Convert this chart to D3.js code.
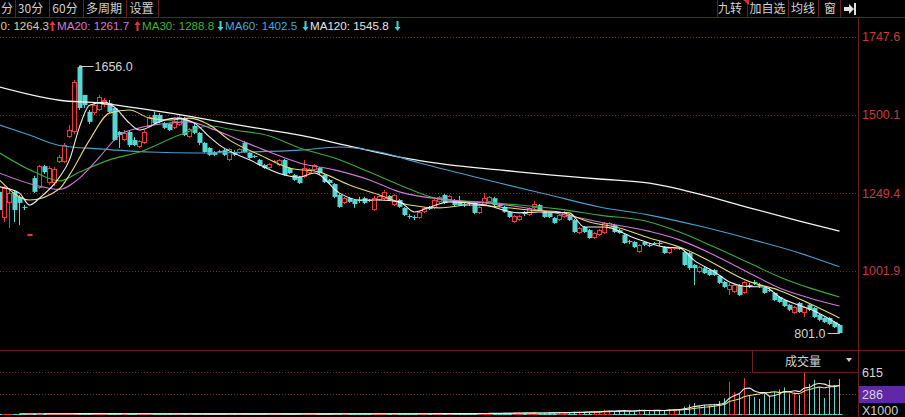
<!DOCTYPE html>
<html><head><meta charset="utf-8">
<script src="https://cdn.jsdelivr.net/npm/d3@7"></script>
<style>
html,body{margin:0;padding:0;background:#000;overflow:hidden}
svg{display:block}
text{font-family:"Liberation Sans",Arial,sans-serif}
.cjk{font-family:"Noto Sans CJK SC","Noto Sans",sans-serif}
</style></head><body>
<svg id="c" width="905" height="417"></svg>
<script>
// ---------------- DATA ----------------
const opens=[1254,1171,1219,1254,1238,1206,1113,1298,1266,1336,1282,1282,1349,1349,1429,1445,1652,1563,1509,1505,
1515,1531,1537,1521,1445,1419,1445,1419,1397,1410,1461,1499,1499,1473,1470,1458,1467,1489,1429,1464,
1442,1410,1394,1381,1384,1387,1356,1381,1378,1410,1378,1368,1356,1340,1330,1349,1340,1356,1330,1308,
1301,1301,1314,1324,1330,1308,1292,1279,1244,1219,1234,1228,1228,1234,1228,1196,1228,1231,1241,1212,
1228,1203,1177,1174,1171,1190,1203,1203,1222,1244,1228,1228,1225,1215,1219,1219,1187,1212,1222,1234,
1212,1206,1190,1158,1164,1187,1180,1203,1212,1190,1187,1171,1164,1174,1180,1164,1123,1142,1132,1107,
1117,1123,1139,1148,1132,1117,1097,1094,1062,1094,1085,1091,1091,1078,1059,1072,1075,1062,1059,1021,
999,1011,1005,1005,986,967,941,935,957,932,957,967,957,948,941,932,919,909,894,868,
900,868,894,884,862,852,852,839,830];
const highs=[1260,1273,1266,1260,1244,1212,1120,1305,1340,1340,1336,1333,1372,1410,1467,1610,1656,1563,1515,1537,
1563,1553,1547,1524,1448,1451,1448,1429,1419,1451,1499,1509,1505,1477,1473,1483,1499,1493,1458,1470,
1445,1413,1397,1384,1387,1391,1394,1387,1394,1416,1381,1372,1359,1343,1346,1356,1359,1359,1333,1311,
1305,1356,1330,1343,1333,1311,1295,1282,1247,1238,1238,1231,1238,1238,1231,1241,1244,1260,1244,1247,
1231,1206,1183,1180,1193,1206,1209,1231,1241,1247,1244,1231,1241,1222,1225,1222,1209,1250,1241,1238,
1219,1209,1193,1180,1180,1193,1206,1225,1215,1193,1190,1174,1183,1193,1183,1168,1142,1145,1136,1126,
1136,1158,1158,1152,1136,1120,1101,1097,1088,1097,1091,1094,1097,1081,1078,1078,1078,1066,1062,1024,
1018,1015,1008,1008,989,970,964,960,960,970,964,973,964,951,948,935,922,913,897,890,
903,890,897,887,865,855,855,842,833];
const lows=[1171,1158,1139,1158,1148,1196,1113,1250,1263,1311,1276,1273,1346,1346,1426,1438,1515,1521,1470,1499,
1512,1524,1505,1416,1394,1416,1397,1400,1394,1407,1458,1470,1473,1454,1448,1454,1464,1432,1426,1438,
1403,1378,1368,1368,1378,1368,1352,1368,1375,1378,1359,1362,1336,1327,1327,1346,1336,1305,1311,1289,
1279,1298,1311,1321,1311,1282,1279,1234,1203,1215,1219,1203,1219,1215,1222,1193,1225,1228,1225,1209,
1203,1177,1168,1164,1168,1187,1196,1199,1219,1215,1225,1209,1209,1206,1209,1183,1183,1209,1219,1209,
1206,1187,1171,1155,1161,1177,1177,1199,1193,1171,1171,1152,1161,1171,1161,1123,1120,1123,1104,1104,
1113,1120,1136,1123,1120,1088,1088,1075,1059,1081,1078,1085,1081,1056,1056,1069,1069,1018,1005,957,
995,992,986,986,960,948,925,932,922,929,948,957,948,929,935,906,900,887,874,865,
868,855,874,852,842,836,830,820,801];
const closes=[1196,1266,1250,1196,1219,1203,1120,1254,1336,1317,1330,1327,1365,1403,1451,1604,1521,1531,1477,1531,
1556,1547,1509,1419,1435,1442,1403,1403,1416,1445,1493,1473,1477,1458,1451,1480,1493,1435,1454,1442,
1410,1381,1372,1372,1381,1372,1391,1372,1391,1381,1362,1365,1340,1330,1343,1352,1356,1308,1314,1292,
1282,1330,1327,1340,1314,1285,1282,1238,1206,1234,1222,1215,1225,1219,1227,1234,1241,1254,1228,1244,
1206,1180,1174,1171,1190,1203,1199,1228,1238,1219,1241,1212,1212,1212,1215,1187,1206,1234,1238,1212,
1209,1190,1174,1177,1177,1183,1203,1215,1196,1174,1174,1155,1180,1190,1164,1126,1139,1126,1107,1123,
1132,1155,1155,1126,1123,1091,1094,1078,1085,1085,1081,1088,1088,1059,1075,1075,1072,1021,1011,1011,
1015,995,989,989,964,951,957,957,925,967,954,964,954,932,938,909,903,890,878,887,
871,887,878,855,846,839,833,823,804];
const volumes=[3,4,3,2,3,2,1,4,5,3, 3,3,4,5,4,8,9,5,4,3, 4,3,3,5,3,3,3,2,3,3, 4,3,2,2,2,2,3,3,2,2,
3,3,2,2,2,2,3,2,2,3, 2,2,3,2,2,2,2,3,2,3, 3,3,2,2,2,3,2,4,5,3, 3,3,3,3,2,4,3,4,3,4,
4,5,4,4,5,5,4,6,6,5, 6,6,6,5,5,8,9,12,10,9, 10,12,14,18,16,12,15,18,14,16, 18,22,24,20,22,30,35,28,34,30,
36,65,50,40,38,52,45,50,70,48, 45,50,52,60,75,70,68,110,140,160, 120,130,115,150,190,230,470,320,300,527,
280,250,220,300,260,330,360,390,300,320, 280,615,440,500,395,235,500,425,512];
// moving-average lines: [candle index, value]
const ma5=[[0,1270],[4,1250],[6,1212],[8,1234],[12,1301],[14,1356],[16,1461],[18,1530],[21,1540],[23,1524],[26,1473],[28,1451],[32,1477],[35,1489],[39,1473],[42,1429],[44,1403],[50,1356],[57,1308],[60,1301],[63,1314],[68,1250],[72,1228],[76,1228],[80,1222],[83,1190],[86,1205],[90,1222],[97,1212],[104,1187],[108,1190],[114,1187],[117,1142],[121,1142],[127,1107],[133,1078],[136,1075],[139,1035],[143,999],[146,967],[150,952],[153,951],[156,919],[163,874],[168,830]];
const ma10=[[0,1292],[6,1228],[12,1264],[14,1308],[18,1419],[22,1505],[26,1515],[30,1489],[34,1483],[38,1489],[42,1467],[46,1419],[52,1372],[58,1330],[64,1317],[70,1276],[76,1244],[82,1212],[88,1203],[94,1212],[100,1206],[106,1196],[112,1190],[118,1158],[124,1139],[130,1107],[136,1078],[140,1050],[150,968],[156,940],[162,898],[168,852]];
const ma20=[[0,1314],[7,1276],[12,1262],[16,1298],[20,1365],[24,1435],[28,1458],[34,1473],[38,1477],[42,1458],[47,1426],[54,1381],[60,1346],[67,1324],[74,1292],[80,1254],[90,1228],[100,1215],[110,1190],[120,1158],[130,1128],[136,1101],[143,1052],[150,995],[156,948],[162,916],[168,890]];
const ma30=[[0,1378],[7,1317],[12,1289],[16,1317],[22,1356],[28,1381],[36,1435],[42,1464],[47,1451],[54,1432],[60,1394],[67,1362],[74,1317],[80,1276],[88,1231],[96,1222],[104,1212],[112,1199],[120,1180],[130,1158],[136,1126],[143,1078],[150,1027],[156,983],[162,948],[168,919]];
const ma60=[[0,1467],[6,1435],[12,1402],[20,1391],[30,1381],[40,1378],[50,1381],[60,1387],[68,1397],[76,1381],[84,1346],[92,1314],[100,1282],[110,1244],[120,1206],[130,1180],[140,1145],[150,1104],[160,1059],[168,1015]];
const ma120=[[0,1588],[12,1546],[20,1537],[30,1515],[40,1489],[50,1461],[60,1435],[70,1400],[80,1365],[90,1340],[100,1324],[110,1308],[120,1295],[130,1282],[140,1247],[150,1203],[160,1161],[168,1129]];
const priceTicks=[1747.6,1500.1,1249.4,1001.9];
const volTicks=[615,286];
// legend entries as visible in the picture (first one is cut by the window edge)
const maNames=["0","MA20","MA30","MA60","MA120"];
const maValues=["1264.3","1261.7","1288.8","1402.5","1545.8"];
const maDirs=["up","up","down","down","down"];
const tabsLeft=["分","30分","60分","多周期","设置"];
const tabsRight=["九转","加自选","均线","窗"];
const maxLabel="1656.0", minLabel="801.0", volLabel="成交量", volUnit="X1000";

// ---------------- LAYOUT / STYLE ----------------
const W=905,H=417, AX=858, TOP=17, PBOT=350, VBASE=414;
const C={bg:"#000",frame:"#6a1e1e",grid:"#7a2424",axisText:"#c43c3c",tab:"#d2d2d2",
 up:"#ea3a3a",down:"#58d6d2",ma5:"#f0f0f0",ma10:"#e4dc78",ma20:"#d27ad6",ma30:"#3eaa3e",ma60:"#4c9fcc",ma120:"#f4f4f4"};
const legendColors=["#dcd488","#d478d8","#3cb43c","#48a8d8","#e6e6e6"];
const svg=d3.select("#c");
svg.append("rect").attr("width",W).attr("height",H).attr("fill",C.bg);
const N=closes.length;
const xs=d3.scaleLinear().domain([0,N-1]).range([-1,839]);
const ys=d3.scaleLinear().domain([750.05,1808.1]).range([PBOT,TOP+1]);
const yv=d3.scaleLinear().domain([0,615]).range([VBASE,372]);

const defs=svg.append("defs");
defs.append("clipPath").attr("id","cp").append("rect").attr("x",0).attr("y",TOP+1).attr("width",AX).attr("height",PBOT-TOP-1);
defs.append("clipPath").attr("id","cv").append("rect").attr("x",0).attr("y",PBOT+1).attr("width",AX).attr("height",H-PBOT-1);

// grid
const g=svg.append("g");
priceTicks.forEach(t=>{const y=Math.round(ys(t))+0.5;
 g.append("line").attr("x1",0).attr("x2",AX).attr("y1",y).attr("y2",y).attr("stroke",C.grid).attr("stroke-dasharray","1,2");});
volTicks.forEach(t=>{const y=Math.round(yv(t))+0.5;
 g.append("line").attr("x1",0).attr("x2",AX).attr("y1",y).attr("y2",y).attr("stroke",C.grid).attr("stroke-dasharray","1,2");});

// candles
const pc=svg.append("g").attr("clip-path","url(#cp)");
function drawBar(gr,i,o,c,h,l,yScale){
 const cx=Math.round(xs(i)); const up=c>=o; const col=up?C.up:C.down;
 const yt=yScale(Math.max(o,c)), yb=yScale(Math.min(o,c)), yh=yScale(h), yl=yScale(l);
 const bh=Math.max(1,yb-yt);
 if(up && bh>=3){
  gr.append("line").attr("x1",cx+0.5).attr("x2",cx+0.5).attr("y1",yh).attr("y2",yt).attr("stroke",col);
  gr.append("line").attr("x1",cx+0.5).attr("x2",cx+0.5).attr("y1",yt+bh).attr("y2",yl).attr("stroke",col);
  gr.append("rect").attr("x",cx-1.5).attr("y",Math.round(yt)+0.5).attr("width",4).attr("height",Math.max(1,Math.round(bh)-1))
   .attr("fill","#000").attr("stroke",col);
 } else {
  gr.append("line").attr("x1",cx+0.5).attr("x2",cx+0.5).attr("y1",yh).attr("y2",yl).attr("stroke",col);
  gr.append("rect").attr("x",cx-1.5).attr("y",yt).attr("width",5).attr("height",bh).attr("fill",col);
 }
}
for(let i=0;i<N;i++) drawBar(pc,i,opens[i],closes[i],highs[i],lows[i],ys);

// MA lines
const line=d3.line().x(d=>xs(d[0])+0.5).y(d=>ys(d[1])).curve(d3.curveMonotoneX);
[[ma120,C.ma120,1.3],[ma60,C.ma60,1.1],[ma30,C.ma30,1.1],[ma20,C.ma20,1.1],[ma10,C.ma10,1.1],[ma5,C.ma5,1.1]].forEach(([d,col,w])=>{
 pc.append("path").attr("d",line(d)).attr("fill","none").attr("stroke",col).attr("stroke-width",w);
});

// extreme annotations
const hiI=highs.indexOf(d3.max(highs)), loI=lows.indexOf(d3.min(lows));
const hx=Math.round(xs(hiI))+0.5, hy=Math.round(ys(highs[hiI]))+0.5;
svg.append("circle").attr("cx",hx+1).attr("cy",hy).attr("r",1.3).attr("fill","#ccc");
svg.append("line").attr("x1",hx+1).attr("x2",hx+14).attr("y1",hy).attr("y2",hy).attr("stroke","#ccc");
svg.append("text").attr("x",hx+15).attr("y",hy+4.5).attr("fill","#d4d4d4").attr("font-size",12.5).text(maxLabel);
const lx=Math.round(xs(loI))+0.5, ly=Math.round(ys(lows[loI]))-0.5;
svg.append("path").attr("d",`M${lx-12},${ly} H${lx-1} L${lx},${ly-3}`).attr("fill","none").attr("stroke","#ccc");
svg.append("text").attr("x",lx-14).attr("y",ly+4.5).attr("text-anchor","end").attr("fill","#d4d4d4").attr("font-size",12.5).text(minLabel);

// volume
const vc=svg.append("g").attr("clip-path","url(#cv)");
for(let i=0;i<N;i++) drawBar(vc,i,closes[i]>=opens[i]?0:1,closes[i]>=opens[i]?1:0,volumes[i],0,v=>v<=1?VBASE:yv(v));
function mavg(k){const r=[];for(let i=k-1;i<N;i++){r.push([i,d3.mean(volumes.slice(i-k+1,i+1))]);}return r;}
const vline=d3.line().x(d=>xs(d[0])+0.5).y(d=>yv(d[1])).curve(d3.curveMonotoneX);
vc.append("path").attr("d",vline(mavg(10))).attr("fill","none").attr("stroke",C.ma10).attr("stroke-width",1.1);
vc.append("path").attr("d",vline(mavg(5))).attr("fill","none").attr("stroke",C.ma5).attr("stroke-width",1.1);

// frame lines
svg.append("line").attr("x1",0).attr("x2",W).attr("y1",TOP+0.5).attr("y2",TOP+0.5).attr("stroke",C.frame);
svg.append("line").attr("x1",0).attr("x2",W).attr("y1",PBOT+0.5).attr("y2",PBOT+0.5).attr("stroke",C.frame);
svg.append("line").attr("x1",AX+0.5).attr("x2",AX+0.5).attr("y1",TOP).attr("y2",H).attr("stroke",C.frame);

// price axis
const pa=svg.append("g").attr("transform",`translate(${AX},0)`).call(d3.axisRight(ys).tickValues(priceTicks).tickSize(0).tickPadding(4).tickFormat(d3.format(".1f")));
pa.select(".domain").remove();
pa.selectAll("text").attr("fill",C.axisText).attr("font-size",12.5).attr("font-family","Liberation Sans, Arial, sans-serif");

// volume axis
svg.append("rect").attr("x",AX+1).attr("y",386).attr("width",W-AX-1).attr("height",17).attr("fill","#5e28a8");
const va=svg.append("g").attr("transform",`translate(${AX},0)`).call(d3.axisRight(yv).tickValues(volTicks).tickSize(0).tickPadding(4).tickFormat(d3.format("d")));
va.select(".domain").remove();
va.selectAll("text").attr("fill","#d8d8d8").attr("font-size",12.5).attr("font-family","Liberation Sans, Arial, sans-serif");
svg.append("text").attr("x",AX+4).attr("y",415).attr("fill","#cfcfcf").attr("font-size",12.5).text(volUnit);
// volume selector box
svg.append("path").attr("d",`M752.5,${PBOT} V372.5 H${AX}`).attr("fill","none").attr("stroke",C.frame);
svg.append("text").attr("class","cjk").attr("x",803).attr("y",366).attr("text-anchor","middle").attr("fill","#d0d0d0").attr("font-size",12).text(volLabel);
svg.append("path").attr("d","M846,358 h6 l-3,4 z").attr("fill","#cfcfcf");

// header tabs
const sepL=[15,49,83,126,158], posL=[1,30.5,65,104,141.5];
tabsLeft.forEach((t,i)=>{
 svg.append("text").attr("class","cjk").attr("x",posL[i]).attr("y",13).attr("text-anchor",i===0?"start":"middle").attr("fill",C.tab).attr("font-size",12).text(t);
});
sepL.forEach(x=>svg.append("line").attr("x1",x+0.5).attr("x2",x+0.5).attr("y1",0).attr("y2",TOP).attr("stroke",C.frame));
const sepR=[717,747,788,818,840], cenR=[730,767.5,803,830];
tabsRight.forEach((t,i)=>{
 svg.append("text").attr("class","cjk").attr("x",cenR[i]).attr("y",13).attr("text-anchor","middle").attr("fill",C.tab).attr("font-size",12).text(t);
});
sepR.forEach(x=>svg.append("line").attr("x1",x+0.5).attr("x2",x+0.5).attr("y1",0).attr("y2",TOP).attr("stroke",C.frame));
svg.append("path").attr("d","M743,0 h6 v5 z").attr("fill","#d03030");
svg.append("path").attr("d","M844,7 h5 v-3 l5,5 l-5,5 v-3 h-5 z").attr("fill","#e0e0e0");
svg.append("rect").attr("x",854).attr("y",3).attr("width",2).attr("height",12).attr("fill","#e0e0e0");

// MA legend
const legX=[0.5,57,142,225,310], arrX=[52,137,220,305,397];
maNames.forEach((n,i)=>{
 svg.append("text").attr("x",legX[i]).attr("y",30).attr("fill",legendColors[i]).attr("font-size",11.6).text(n+": "+maValues[i]);
 const ax=arrX[i]+0.5, up=maDirs[i]==="up", col=up?"#e83434":"#48d0d8";
 const p=up?`M${ax},21 l3,4 h-2 v6 h-2 v-6 h-2 z`:`M${ax},31 l3,-4 h-2 v-6 h-2 v6 h-2 z`;
 svg.append("path").attr("d",p).attr("fill",col);
});
</script>
</body></html>
